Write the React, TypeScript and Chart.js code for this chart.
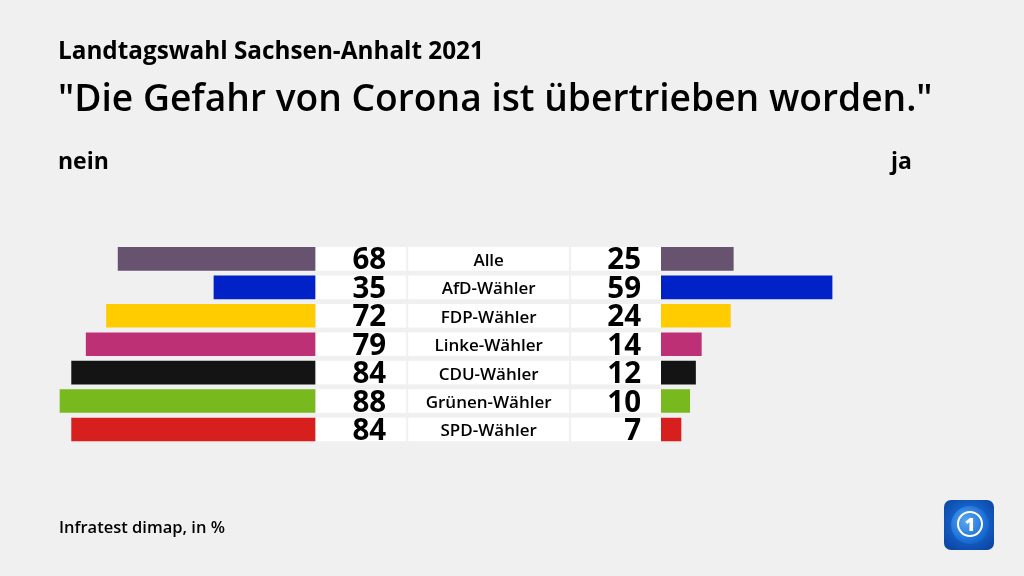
import React, { useEffect, useRef } from "react";
import { Chart, registerables } from "chart.js";

Chart.register(...registerables);

const categories = ["Alle", "AfD-Wähler", "FDP-Wähler", "Linke-Wähler", "CDU-Wähler", "Grünen-Wähler", "SPD-Wähler"];
const neinValues = [68, 35, 72, 79, 84, 88, 84];
const jaValues = [25, 59, 24, 14, 12, 10, 7];
const barColors = ["#67536f", "#0022c6", "#ffcc00", "#bd3075", "#141414", "#78b91e", "#d7201e"];

const GAP = 59.5; // half-width of the middle label area, in value units
const X_MIN = -168.04;
const X_MAX = 184.46;

const FONT = "'Open Sans', 'Noto Sans', sans-serif";

const middlePlugin = {
  id: "middleLabels",
  afterDatasetsDraw(chart: any) {
    const { ctx, scales } = chart;
    const x = scales.x;
    const meta = chart.getDatasetMeta(0);
    const left = x.getPixelForValue(-GAP) + 1;
    const right = x.getPixelForValue(GAP);
    const total = right - left;
    const numW = (total - 4) * 90 / 341;
    const labW = total - 4 - 2 * numW;
    ctx.save();
    categories.forEach((cat, i) => {
      const bar = meta.data[i];
      const props = bar.getProps(["y", "height"], true);
      const cy = props.y;
      const h = props.height;
      ctx.fillStyle = "#ffffff";
      ctx.fillRect(left, cy - h / 2, numW, h);
      ctx.fillRect(left + numW + 2, cy - h / 2, labW, h);
      ctx.fillRect(left + numW + 2 + labW + 2, cy - h / 2, numW, h);
      ctx.fillStyle = "#000000";
      ctx.textBaseline = "alphabetic";
      ctx.font = `700 29.5px ${FONT}`;
      ctx.textAlign = "right";
      ctx.fillText(String(neinValues[i]), left + numW - 20, cy + 10.5);
      ctx.fillText(String(jaValues[i]), right - 20, cy + 10.5);
      ctx.font = `600 17px ${FONT}`;
      ctx.textAlign = "center";
      ctx.fillText(cat, left + numW + 2 + labW / 2, cy + 7);
    });
    ctx.restore();
  },
};

function ChartCanvas() {
  const ref = useRef<HTMLCanvasElement | null>(null);
  useEffect(() => {
    if (!ref.current) return;
    const chart = new Chart(ref.current, {
      type: "bar",
      data: {
        labels: categories,
        datasets: [
          {
            label: "nein",
            data: neinValues.map((v) => [-(GAP + v), -GAP]) as any,
            backgroundColor: barColors,
            grouped: false,
            borderSkipped: false,
          } as any,
          {
            label: "ja",
            data: jaValues.map((v) => [GAP, GAP + v]) as any,
            backgroundColor: barColors,
            grouped: false,
            borderSkipped: false,
          } as any,
        ],
      },
      options: {
        indexAxis: "y",
        responsive: false,
        animation: false,
        events: [],
        layout: { padding: { top: 244.7, bottom: 132.3, left: 0, right: 0 } },
        datasets: { bar: { categoryPercentage: 1, barPercentage: 0.83 } } as any,
        scales: {
          x: { type: "linear", min: X_MIN, max: X_MAX, display: false },
          y: { type: "category", display: false, offset: true, grid: { display: false } },
        },
        plugins: { legend: { display: false }, tooltip: { enabled: false }, title: { display: false } },
      },
      plugins: [middlePlugin],
    });
    return () => chart.destroy();
  }, []);
  return <canvas ref={ref} width={1024} height={576} style={{ position: "absolute", left: 0, top: 0 }} />;
}

const textStyle = (size: number, weight: number, baseline: number, left: number): React.CSSProperties => ({
  position: "absolute",
  top: baseline - 0.888 * size,
  left,
  fontFamily: FONT,
  fontSize: size,
  fontWeight: weight,
  lineHeight: `${size}px`,
  color: "#000",
  whiteSpace: "nowrap",
});

export default function App() {
  return (
    <div style={{ position: "fixed", left: 0, top: 0, width: 1024, height: 576, background: "#f0f0f0", overflow: "hidden" }}>
      <ChartCanvas />
      <div style={textStyle(24.3, 700, 60, 58)}>Landtagswahl Sachsen-Anhalt 2021</div>
      <div style={textStyle(37.2, 600, 111.5, 58)}>"Die Gefahr von Corona ist übertrieben worden."</div>
      <div style={textStyle(23, 700, 169, 58)}>nein</div>
      <div style={textStyle(23, 700, 169, 891)}>ja</div>
      <div style={textStyle(16.5, 600, 534, 59)}>Infratest dimap, in %</div>
      <div
        style={{
          position: "absolute",
          left: 944,
          top: 500,
          width: 50,
          height: 50,
          borderRadius: 7,
          background: "radial-gradient(circle at 50% 45%, #3d8fe6 0%, #1460c8 45%, #0a3f98 100%)",
        }}
      >
        <div
          style={{
            position: "absolute",
            left: 7,
            top: 6,
            width: 38,
            height: 38,
            borderRadius: "50%",
            background: "radial-gradient(circle at 40% 40%, #5aa8f0 0%, #1c6fd6 60%, #0d4dae 100%)",
          }}
        />
        <div
          style={{
            position: "absolute",
            left: 13,
            top: 11,
            width: 22,
            height: 22,
            borderRadius: "50%",
            border: "2px solid #ffffff",
            color: "#ffffff",
            fontFamily: FONT,
            fontWeight: 800,
            fontSize: 18,
            lineHeight: "22px",
            textAlign: "center",
          }}
        >
          1
        </div>
      </div>
    </div>
  );
}
